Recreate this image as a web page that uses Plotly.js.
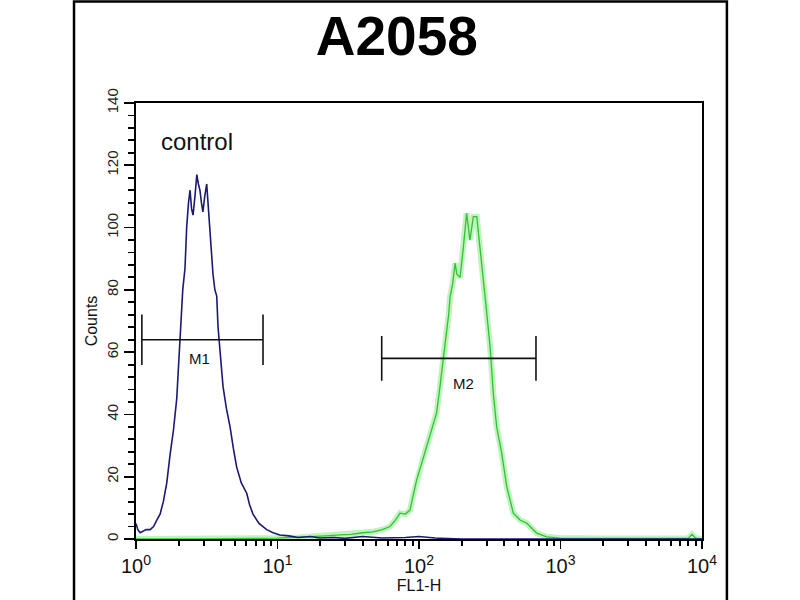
<!DOCTYPE html>
<html>
<head>
<meta charset="utf-8">
<script src="https://cdn.plot.ly/plotly-3.0.1.min.js"></script>
<style>html,body{margin:0;padding:0;background:#fff;}#chart{width:800px;height:600px;}</style>
</head>
<body>
<div id="chart"></div>
<script>
// Control histogram (FL1-H channel value, counts)
var ctrlX = [1.00, 1.03, 1.07, 1.12, 1.18, 1.26, 1.33, 1.40, 1.48, 1.56, 1.65, 1.74, 1.84, 1.94, 2.05, 2.14, 2.22, 2.28, 2.35, 2.41, 2.47, 2.53, 2.61, 2.69, 2.76, 2.83, 2.90, 2.97, 3.06, 3.16, 3.25, 3.33, 3.42, 3.50, 3.61, 3.72, 3.80, 3.95, 4.12, 4.35, 4.62, 4.88, 5.15, 5.55, 6.06, 6.35, 6.71, 7.4, 8.39, 9.3, 10.4, 12, 14, 17, 20, 25, 30, 40, 55, 80, 100, 130, 200, 400, 1000, 3000, 10000];
var ctrlY = [5, 3, 2, 2.5, 3, 3, 4, 6, 8, 12, 18, 27, 35, 45, 66, 80, 87, 100, 108, 112, 106, 104, 110, 117, 114, 112, 108, 105, 110, 114, 106, 99, 92, 85, 80, 78, 68, 58, 49, 42, 36, 29, 23, 18, 14.7, 11, 8, 5, 3, 2, 1.3, 1, 0.5, 0.8, 0.3, 0.5, 0.2, 0.8, 0.3, 0.5, 0.8, 0.3, 0, 0, 0, 0, 0];
// A2058 sample histogram
var sampleX = [1, 3, 10, 14, 18, 22, 27.7, 33, 40, 47.3, 55, 62.4, 68, 73.4, 80, 86.4, 91, 96.3, 104, 113, 122, 133, 139, 145, 151, 157, 162, 166, 173, 180, 185, 195, 206, 217, 229, 242, 256, 270, 285, 301, 318, 335, 354, 384, 417, 464, 520, 576, 679, 798, 1000, 2000, 5000, 8000, 8500, 9000, 10000];
var sampleY = [0, 0, 0.3, 0.5, 0.8, 1, 1.3, 1.5, 2, 2.3, 3, 4, 6, 8.3, 8, 9.3, 14, 19, 24, 29.6, 34, 40.4, 47, 53.3, 60, 67, 72, 77.8, 82, 88.6, 85, 84, 93.8, 104.6, 96, 103.5, 103.5, 94, 83, 72.6, 61.7, 46.8, 36, 27.6, 16.8, 8.3, 6, 5.1, 1.9, 0.7, 0.3, 0.2, 0.2, 0.2, 1.5, 0.3, 0];
// Gates
var gateM1X = [1.1, 7.9];
var gateM1Y = [64, 64];
var gateM2X = [54.5, 671];
var gateM2Y = [58, 58];
var gateLabels = ['M1', 'M2'];
var gateLabelX = [2.83, 205];
var gateLabelY = [58, 50];
var xTickVals = [1, 10, 100, 1000, 10000];
var xTickText = ['10<sup>0</sup>', '10<sup>1</sup>', '10<sup>2</sup>', '10<sup>3</sup>', '10<sup>4</sup>'];
var xMinorVals = [];
[1, 10, 100, 1000].forEach(function (d) { for (var k = 2; k <= 9; k++) xMinorVals.push(d * k); });

var traces = [
  {x: sampleX, y: sampleY, mode: 'lines', line: {color: 'rgba(150,235,150,0.6)', width: 6}, hoverinfo: 'skip', showlegend: false},
  {x: sampleX, y: sampleY, mode: 'lines', line: {color: '#2fc42f', width: 1.3}, showlegend: false},
  {x: ctrlX, y: ctrlY, mode: 'lines', line: {color: '#1a1a72', width: 1.6}, showlegend: false},
  {x: gateM1X, y: gateM1Y, mode: 'lines+markers', line: {color: '#111', width: 1.6},
   marker: {symbol: 'line-ns', size: 36, line: {color: '#111', width: 1.6}}, showlegend: false},
  {x: gateM2X, y: gateM2Y, mode: 'lines+markers', line: {color: '#111', width: 1.6},
   marker: {symbol: 'line-ns', size: 32, line: {color: '#111', width: 1.6}}, showlegend: false}
];

var annotations = gateLabels.map(function (t, i) {
  return {x: Math.log10(gateLabelX[i]), y: gateLabelY[i], xref: 'x', yref: 'y', text: t, showarrow: false,
    font: {family: 'Liberation Sans, Arial', size: 15, color: '#111'}};
});
annotations.push({x: Math.log10(2.7), y: 127.5, xref: 'x', yref: 'y', text: 'control', showarrow: false,
  font: {family: 'Liberation Sans, Arial', size: 24, color: '#111'}});

var layout = {
  width: 800, height: 600,
  margin: {l: 136, r: 98, t: 103, b: 61},
  paper_bgcolor: '#fff', plot_bgcolor: '#fff',
  title: {text: '<b>A2058</b>', x: 0.496, xanchor: 'center', y: 0.94, yanchor: 'middle', yref: 'container',
    font: {family: 'Liberation Sans, Arial', size: 55, color: '#000'}},
  xaxis: {type: 'log', range: [0, 4], tickmode: 'array', tickvals: xTickVals, ticktext: xTickText,
    ticks: 'outside', ticklen: 8, tickwidth: 1.8, tickcolor: '#000',
    minor: {tickmode: 'array', tickvals: xMinorVals, ticks: 'outside', ticklen: 5, tickwidth: 2, tickcolor: '#000'},
    showline: true, linecolor: '#000', linewidth: 2, mirror: true, showgrid: false, zeroline: false,
    tickfont: {family: 'Liberation Sans, Arial', size: 20, color: '#111'},
    title: {text: 'FL1-H', standoff: 0, font: {family: 'Liberation Sans, Arial', size: 16, color: '#111'}}},
  yaxis: {range: [0, 140], dtick: 20, tick0: 0, ticks: 'outside', ticklen: 10, tickwidth: 1.8, tickcolor: '#000',
    minor: {dtick: 4, ticks: 'outside', ticklen: 6, tickwidth: 1.8, tickcolor: '#000'},
    tickangle: -90, showline: true, linecolor: '#000', linewidth: 2, mirror: true, showgrid: false, zeroline: false,
    tickfont: {family: 'Liberation Sans, Arial', size: 15, color: '#222'},
    title: {text: 'Counts', standoff: 2, font: {family: 'Liberation Sans, Arial', size: 16, color: '#111'}}},
  annotations: annotations,
  shapes: [{type: 'rect', xref: 'paper', yref: 'paper', x0: -0.1095, x1: 1.044, y0: -0.3, y1: 1.233,
    line: {color: '#000', width: 2.5}, fillcolor: 'rgba(0,0,0,0)', layer: 'below'}]
};

Plotly.newPlot('chart', traces, layout, {staticPlot: true});
</script>
</body>
</html>
